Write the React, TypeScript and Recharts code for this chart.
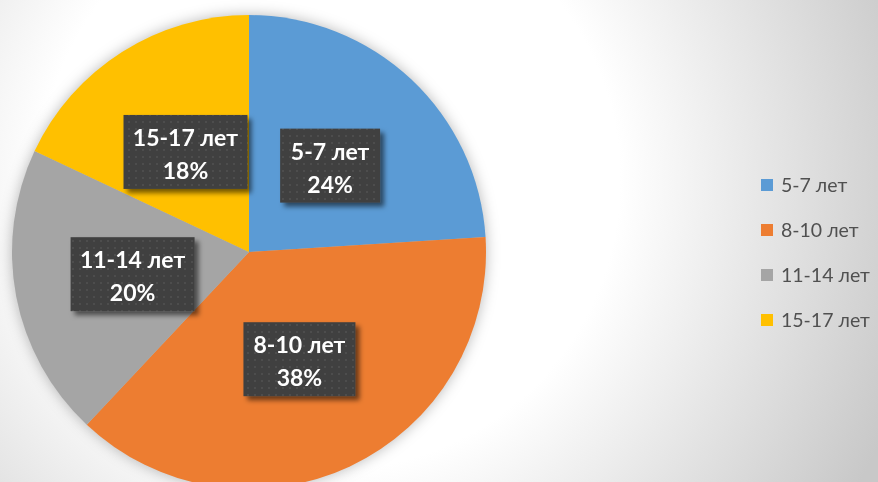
import { PieChart, Pie, Cell, Legend } from 'recharts'

const ageGroups = ['5-7 лет', '8-10 лет', '11-14 лет', '15-17 лет']
const shares = [24, 38, 20, 18]
const sliceColors = ['#5B9BD5', '#ED7D31', '#A5A5A5', '#FFC000']

const data = ageGroups.map((name, i) => ({ name, value: shares[i] }))

const RAD = Math.PI / 180

const renderLabel = (props: any) => {
  const { cx, cy, midAngle, outerRadius, name, percent } = props
  const r = outerRadius * 0.5
  const x = cx + r * Math.cos(-midAngle * RAD)
  const y = cy + r * Math.sin(-midAngle * RAD)
  const w = name.length * 12 + 16
  const h = 74
  return (
    <g>
      <rect
        x={x - w / 2}
        y={y - h / 2}
        width={w}
        height={h}
        fill="url(#dots)"
        filter="url(#boxShadow)"
      />
      <text
        x={x}
        y={y - 15}
        textAnchor="middle"
        dominantBaseline="central"
        fill="#ffffff"
        fontFamily="Lato"
        fontWeight="bold"
        fontSize={23}
      >
        {name}
      </text>
      <text
        x={x}
        y={y + 18}
        textAnchor="middle"
        dominantBaseline="central"
        fill="#ffffff"
        fontFamily="Lato"
        fontWeight="bold"
        fontSize={23}
      >
        {Math.round(percent * 100)}%
      </text>
    </g>
  )
}

// legend drawn in data order (recharts sorts the payload by default)
const renderLegend = () => (
  <div>
    {ageGroups.map((name, i) => (
      <div key={name} style={{ display: 'flex', alignItems: 'center', height: 45 }}>
        <span
          style={{
            width: 12,
            height: 12,
            background: sliceColors[i],
            marginRight: 8,
            display: 'inline-block'
          }}
        />
        <span style={{ fontFamily: 'Lato', fontSize: 19.5, color: '#505050' }}>{name}</span>
      </div>
    ))}
  </div>
)

export default function App() {
  return (
    <div
      style={{
        position: 'fixed',
        left: 0,
        top: 0,
        width: 878,
        height: 482,
        overflow: 'hidden',
        background:
          'radial-gradient(circle at 330px 180px, #ffffff 0px, #ffffff 290px, #c8c8c8 610px)'
      }}
    >
      <style>{'.recharts-pie { filter: drop-shadow(0 0 7px rgba(0,0,0,0.28)); }'}</style>
      <svg width={0} height={0} style={{ position: 'absolute' }}>
        <defs>
          <pattern id="dots" width={7} height={7} patternUnits="userSpaceOnUse">
            <rect width={7} height={7} fill="#404040" />
            <rect x={2} y={2} width={2} height={2} fill="#4d4d4d" />
          </pattern>
          <filter id="boxShadow" x="-20%" y="-20%" width="150%" height="160%">
            <feDropShadow dx={4} dy={4} stdDeviation={2.5} floodColor="#000" floodOpacity={0.55} />
          </filter>
        </defs>
      </svg>
      <PieChart width={878} height={482} margin={{ top: 0, right: 0, bottom: 0, left: 0 }}>
        <Pie
          data={data}
          dataKey="value"
          nameKey="name"
          cx={249}
          cy={252}
          outerRadius={237}
          startAngle={90}
          endAngle={-270}
          stroke="none"
          labelLine={false}
          label={renderLabel}
          isAnimationActive={false}
        >
          {data.map((d, i) => (
            <Cell key={d.name} fill={sliceColors[i]} />
          ))}
        </Pie>
        <Legend
          layout="vertical"
          align="right"
          verticalAlign="middle"
          content={renderLegend}
          wrapperStyle={{ left: 761, top: 162, width: 117, right: 'auto' }}
        />
      </PieChart>
    </div>
  )
}
